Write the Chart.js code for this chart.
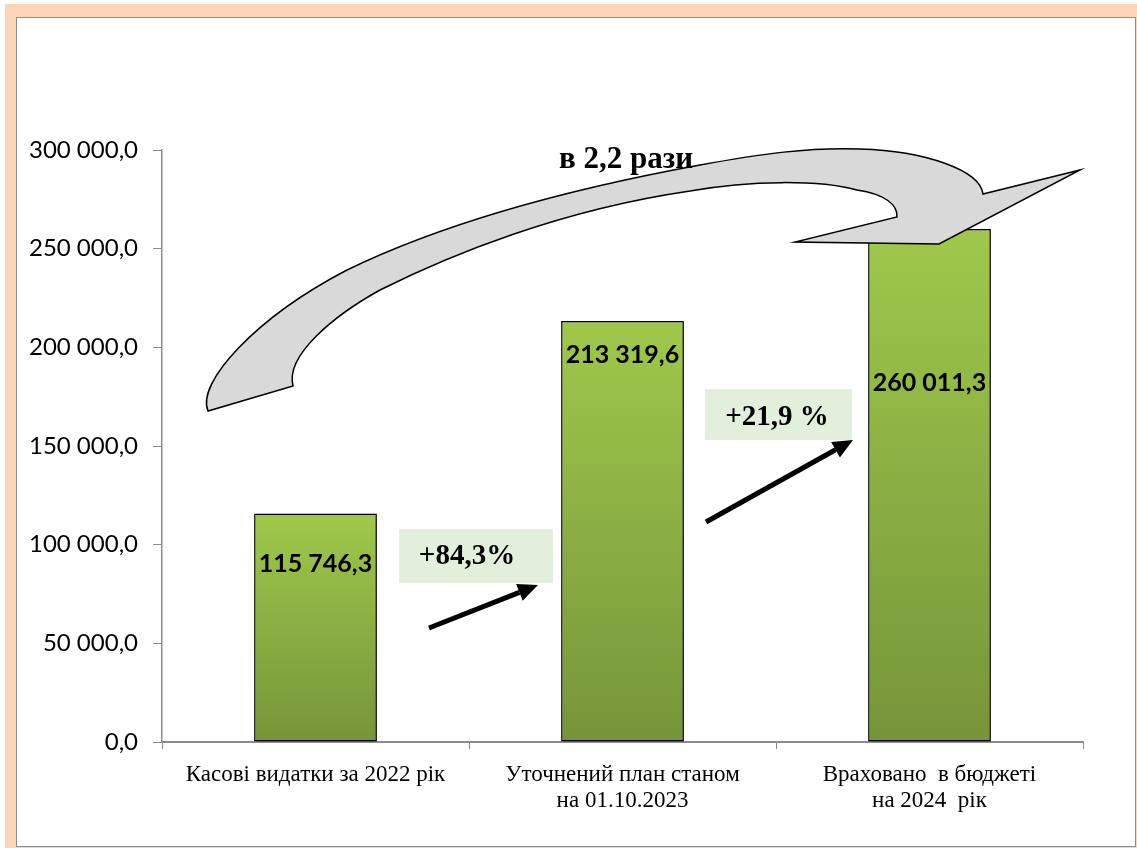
<!DOCTYPE html>
<html>
<head>
<meta charset="utf-8">
<script src="https://cdn.jsdelivr.net/npm/chart.js@4.4.1/dist/chart.umd.min.js"></script>
<style>
  html, body { margin: 0; padding: 0; background: #fff; }
  #frame { position: absolute; left: 5px; top: 4px; width: 1132px; height: 844px; background: #fbd5b5; }
  #panel { position: absolute; left: 16px; top: 17px; width: 1118px; height: 828px; background: #fff; border: 1px solid #8c8c8c; }
  #wrap { position: absolute; left: 0; top: 0; width: 1137px; height: 848px; }
</style>
</head>
<body>
<div id="frame"></div>
<div id="panel"></div>
<div id="wrap"><canvas id="chart"></canvas></div>
<script>
// data
const categories = [
  ["Касові видатки за 2022 рік"],
  ["Уточнений план станом", "на 01.10.2023"],
  ["Враховано  в бюджеті", "на 2024  рік"]
];
const amounts = [115746.3, 213319.6, 260011.3];
const yTicks = [0, 50000, 100000, 150000, 200000, 250000, 300000];
const growthLabels = ["+84,3%", "+21,9 %"];
const totalGrowth = "в 2,2 рази";

// label offsets below bar top (px)
const labelOffsets = [50, 34, 154];

function fmt(v) {
  const parts = v.toFixed(1).split(".");
  return parts[0].replace(/\B(?=(\d{3})+(?!\d))/g, " ") + "," + parts[1];
}

function barGradient(ctx) {
  const chart = ctx.chart;
  if (!chart.chartArea || ctx.type !== "data") return "#8db443";
  const y = chart.scales.y;
  const top = y.getPixelForValue(ctx.raw);
  const bottom = y.getPixelForValue(0);
  const g = chart.ctx.createLinearGradient(0, top, 0, bottom);
  g.addColorStop(0, "#9fc84b");
  g.addColorStop(1, "#76953a");
  return g;
}

function arrow(c, x1, y1, x2, y2) {
  const a = Math.atan2(y2 - y1, x2 - x1);
  const len = 20, w = 9;
  const bx = x2 - len * Math.cos(a), by = y2 - len * Math.sin(a);
  c.strokeStyle = "#000";
  c.lineWidth = 5;
  c.beginPath();
  c.moveTo(x1, y1);
  c.lineTo(bx, by);
  c.stroke();
  c.fillStyle = "#000";
  c.beginPath();
  c.moveTo(x2, y2);
  c.lineTo(bx + w * Math.sin(a), by - w * Math.cos(a));
  c.lineTo(bx - w * Math.sin(a), by + w * Math.cos(a));
  c.closePath();
  c.fill();
}

const decorations = {
  id: "decorations",
  beforeDatasetsDraw(chart) {
    const c = chart.ctx;
    c.save();
    c.shadowColor = "rgba(0,0,0,0.35)";
    c.shadowBlur = 4;
    c.shadowOffsetX = 3;
    c.shadowOffsetY = 2;
  },
  afterDatasetsDraw(chart) {
    chart.ctx.restore();
  },
  afterDraw(chart) {
    const c = chart.ctx;
    const meta = chart.getDatasetMeta(0);
    c.save();
    // values inside bars
    c.font = "bold 25px Lato";
    c.fillStyle = "#000";
    c.textAlign = "center";
    c.textBaseline = "middle";
    meta.data.forEach((bar, i) => {
      c.fillText(fmt(amounts[i]), bar.x, bar.y + labelOffsets[i]);
    });

    // growth boxes
    c.fillStyle = "#e2efda";
    c.fillRect(399, 529, 154, 54);
    c.fillRect(705, 389, 147, 51);
    c.fillStyle = "#000";
    c.font = "bold 29px 'Liberation Serif'";
    c.fillText(growthLabels[0], 467, 557);
    c.fillText(growthLabels[1], 777, 418);
    arrow(c, 429, 628, 538, 585);
    arrow(c, 706, 522, 853, 440);

    // big curved arrow
    c.beginPath();
    c.moveTo(208, 411);
    c.bezierCurveTo(196, 383, 255, 318, 347, 270);
    c.bezierCurveTo(450, 220, 580, 187, 700, 165);
    c.bezierCurveTo(760, 154, 810, 147, 860, 149);
    c.bezierCurveTo(925, 151, 980, 170, 983, 194);
    c.lineTo(1080, 170);
    c.lineTo(939, 244);
    c.lineTo(795, 242);
    c.lineTo(897, 217);
    c.bezierCurveTo(898, 205, 885, 194, 857, 190);
    c.bezierCurveTo(820, 180, 750, 180, 690, 191);
    c.bezierCurveTo(560, 210, 450, 255, 380, 290);
    c.bezierCurveTo(335, 315, 285, 355, 293, 386);
    c.closePath();
    c.fillStyle = "#d9d9d9";
    c.fill();
    c.lineWidth = 1.5;
    c.strokeStyle = "#000";
    c.stroke();

    c.fillStyle = "#000";
    c.font = "bold 31px 'Liberation Serif'";
    c.fillText(totalGrowth, 626, 160);
    c.restore();
  }
};

new Chart(document.getElementById("chart"), {
  type: "bar",
  data: {
    labels: categories,
    datasets: [{
      data: amounts,
      backgroundColor: barGradient,
      borderColor: "#000",
      borderWidth: 1.5,
      borderSkipped: false,
      barPercentage: 0.4,
      categoryPercentage: 1
    }]
  },
  options: {
    responsive: true,
    maintainAspectRatio: false,
    animation: false,
    layout: { padding: { top: 150, right: 54, left: 0, bottom: 0 } },
    plugins: {
      legend: { display: false },
      tooltip: { enabled: false }
    },
    scales: {
      y: {
        min: 0,
        max: 300000,
        afterBuildTicks: s => { s.ticks = yTicks.map(v => ({ value: v })); },
        afterFit: s => { s.width = 162; },
        border: { color: "#8c8c8c", width: 1.5 },
        grid: { drawOnChartArea: false, drawTicks: true, tickLength: 9, color: "#8c8c8c" },
        ticks: {
          padding: 15,
          color: "#000",
          font: { family: "Lato", size: 24 },
          callback: v => fmt(v)
        }
      },
      x: {
        afterFit: s => { s.height = 106; },
        border: { color: "#8c8c8c", width: 2 },
        grid: { drawOnChartArea: false, drawTicks: true, tickLength: 7, color: "#8c8c8c", offset: true },
        ticks: {
          padding: 13,
          color: "#000",
          maxRotation: 0,
          font: { family: "Liberation Serif", size: 23, lineHeight: 1.13 }
        }
      }
    }
  },
  plugins: [decorations]
});
</script>
</body>
</html>
